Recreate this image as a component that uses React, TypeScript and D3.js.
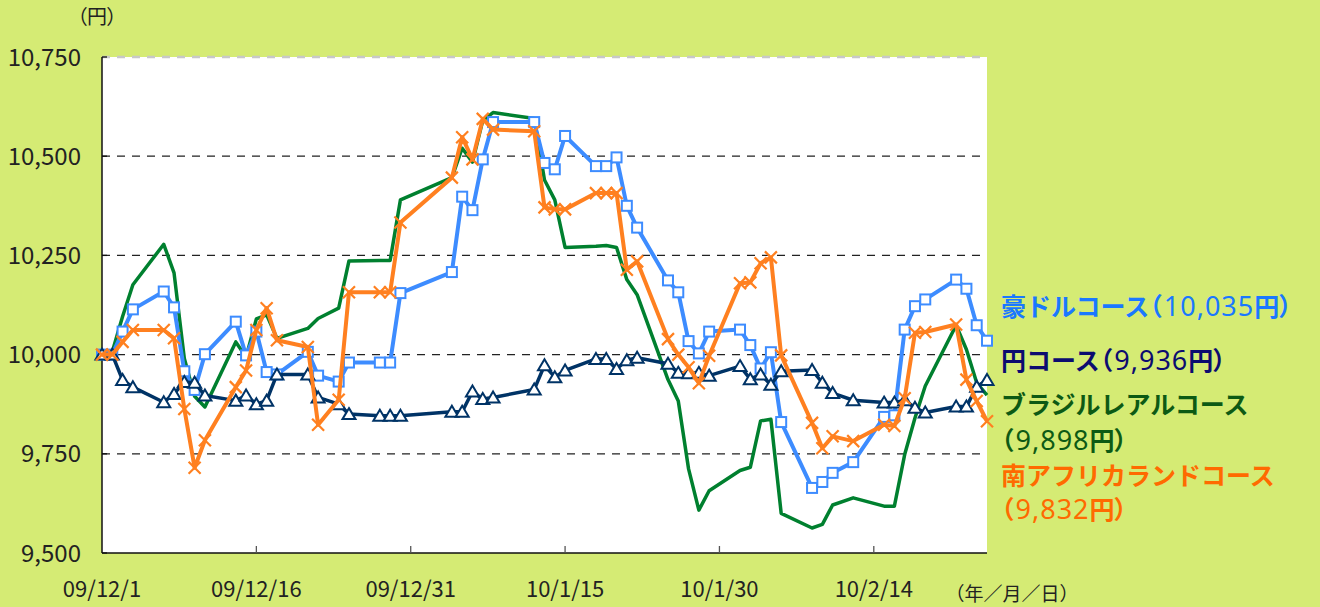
import * as d3 from "d3";

const W = 1320;
const H = 607;
const MARGIN = { top: 57, right: 333, bottom: 54, left: 102 };

// Japanese business days, 09/12/1 .. 10/2/25
const dates = [
  "2009-12-01", "2009-12-02", "2009-12-03", "2009-12-04", "2009-12-07", "2009-12-08", "2009-12-09",
  "2009-12-10", "2009-12-11", "2009-12-14", "2009-12-15", "2009-12-16", "2009-12-17", "2009-12-18",
  "2009-12-21", "2009-12-22", "2009-12-24", "2009-12-25", "2009-12-28", "2009-12-29", "2009-12-30",
  "2010-01-04", "2010-01-05", "2010-01-06", "2010-01-07", "2010-01-08", "2010-01-12", "2010-01-13",
  "2010-01-14", "2010-01-15", "2010-01-18", "2010-01-19", "2010-01-20", "2010-01-21", "2010-01-22",
  "2010-01-25", "2010-01-26", "2010-01-27", "2010-01-28", "2010-01-29",
  "2010-02-01", "2010-02-02", "2010-02-03", "2010-02-04", "2010-02-05", "2010-02-08", "2010-02-09",
  "2010-02-10", "2010-02-12", "2010-02-15", "2010-02-16", "2010-02-17", "2010-02-18", "2010-02-19",
  "2010-02-22", "2010-02-23", "2010-02-24", "2010-02-25",
];

const audValues = [
  10000, 10000, 10058, 10114, 10159, 10119, 9958, 9911, 10001, 10083, 9998, 10058, 9956, 9950,
  10007, 9947, 9932, 9980, 9980, 9980, 10155,
  10208, 10398, 10364, 10492, 10586, 10586, 10483, 10467, 10551, 10475, 10475, 10497, 10375, 10320,
  10187, 10157, 10034, 10003, 10058,
  10063, 10024, 9965, 10006, 9830, 9664, 9679, 9702, 9729, 9843, 9847, 10063, 10122, 10139,
  10189, 10166, 10074, 10035,
];

const jpyValues = [
  10000, 10000, 9936, 9918, 9880, 9901, 9931, 9929, 9897, 9884, 9897, 9875, 9884, 9950,
  9950, 9892, 9875, 9850, 9846, 9846, 9846,
  9856, 9856, 9907, 9888, 9892, 9912, 9973, 9943, 9960, 9989, 9989, 9964, 9986, 9992,
  9977, 9954, 9953, 9954, 9947,
  9971, 9938, 9950, 9924, 9958, 9961, 9929, 9903, 9885, 9879, 9879, 9885, 9866, 9854,
  9869, 9869, 9919, 9936,
];

const brlValues = [
  10000, 10007, 10096, 10176, 10278, 10206, 9990, 9895, 9868, 10032, 9994, 10090, 10100, 10041,
  10066, 10091, 10117, 10236, 10237, 10237, 10390,
  10446, 10520, 10485, 10590, 10610, 10595, 10440, 10390, 10270, 10273, 10275, 10270, 10189, 10151,
  9937, 9883, 9712, 9608, 9657,
  9708, 9716, 9833, 9837, 9600, 9563, 9572, 9621, 9639, 9618, 9618, 9748, 9840, 9921,
  10074, 10013, 9929, 9898,
];

const zarValues = [
  10000, 10000, 10032, 10062, 10062, 10041, 9863, 9715, 9784, 9918, 9960, 10062, 10117, 10036,
  10019, 9823, 9886, 10157, 10157, 10157, 10333,
  10446, 10548, 10492, 10594, 10567, 10563, 10371, 10366, 10366, 10407, 10407, 10407, 10214, 10235,
  10039, 10000, 9968, 9928, 9997,
  10180, 10182, 10230, 10245, 9998, 9828, 9764, 9794, 9782, 9823, 9820, 9890, 10055, 10057,
  10076, 9937, 9883, 9832,
];

const yTicks = [9500, 9750, 10000, 10250, 10500, 10750];
const xTickDays = [0, 15, 30, 45, 60, 75];

const FONT = "'Noto Sans CJK JP', 'Noto Sans', sans-serif";
const NUM_FONT = "'Noto Sans', sans-serif";
const BG = "#d5eb74";
const PALT = { fontFeatureSettings: "'palt'" };

const parse = d3.timeParse("%Y-%m-%d");
const fmtDate = d3.timeFormat("%y/%-m/%-d");

function Square({ x, y, color }) {
  return <rect x={x - 5} y={y - 5} width={10} height={10} fill="white" stroke={color} strokeWidth={2} />;
}
function Tri({ x, y, color }) {
  return <path d={`M${x},${y - 6}L${x + 6.5},${y + 5}L${x - 6.5},${y + 5}Z`} fill="white" stroke={color} strokeWidth={2} />;
}
function Cross({ x, y, color }) {
  return <path d={`M${x - 6},${y - 6}L${x + 6},${y + 6}M${x + 6},${y - 6}L${x - 6},${y + 6}`} stroke={color} strokeWidth={2.2} />;
}

// legend part kinds: "k" = bold kana/kanji, "p" = bold proportional paren, "n" = number
const legend = [
  { y: 307, color: "#1a78ff", parts: [["豪ドルコース", "k"], ["（", "p"], ["10,035", "n"], ["円", "k"], ["）", "p"]] },
  { y: 361, color: "#0c0c70", parts: [["円コース", "k"], ["（", "p"], ["9,936", "n"], ["円", "k"], ["）", "p"]] },
  { y: 405, color: "#0d5a14", parts: [["ブラジルレアルコース", "k"]] },
  { y: 441, color: "#0d5a14", parts: [["（", "p"], ["9,898", "n"], ["円", "k"], ["）", "p"]] },
  { y: 476, color: "#ff6a00", parts: [["南アフリカランドコース", "k"]] },
  { y: 510, color: "#ff6a00", parts: [["（", "p"], ["9,832", "n"], ["円", "k"], ["）", "p"]] },
];

export default function App() {
  const xDates = dates.map((d) => parse(d));
  const start = xDates[0];
  const end = xDates[xDates.length - 1];

  const x = d3.scaleTime().domain([start, end]).range([MARGIN.left, W - MARGIN.right]);
  const y = d3.scaleLinear().domain([9500, 10750]).range([H - MARGIN.bottom, MARGIN.top]);
  const x0 = MARGIN.left;
  const x1 = x(end);
  const yBottom = y(9500);

  const series = [
    { key: "brl", values: brlValues, color: "#00802f", width: 3.5, marker: null },
    { key: "aud", values: audValues, color: "#3d8cff", width: 4, marker: Square },
    { key: "jpy", values: jpyValues, color: "#003366", width: 3.5, marker: Tri },
    { key: "zar", values: zarValues, color: "#ff8020", width: 4, marker: Cross },
  ];

  const line = d3
    .line<number>()
    .x((_, i) => x(xDates[i]))
    .y((v) => y(v));

  return (
    <svg width={W} height={H} style={{ position: "absolute", left: 0, top: 0 }} fontFamily={FONT}>
      <rect x={0} y={0} width={W} height={H} fill={BG} />
      <rect x={x0} y={y(10750)} width={x1 - x0} height={yBottom - y(10750)} fill="white" />

      {/* grid */}
      {yTicks.filter((t) => t > 9500).map((t) => (
        <line
          key={t}
          x1={x0}
          x2={x1}
          y1={y(t)}
          y2={y(t)}
          stroke={t === 10750 ? "#c8c8c8" : "#222"}
          strokeWidth={t === 10750 ? 2.5 : 1.3}
          strokeDasharray="8,7"
        />
      ))}

      {/* axes */}
      <line x1={x0} x2={x0} y1={y(10750)} y2={yBottom} stroke="#111" strokeWidth={1.5} />
      <line x1={x0} x2={x1} y1={yBottom} y2={yBottom} stroke="#111" strokeWidth={1.5} />
      {yTicks.map((t) => (
        <line key={t} x1={x0} x2={x0 + 5} y1={y(t)} y2={y(t)} stroke="#111" strokeWidth={1.3} />
      ))}
      {yTicks.map((t) => (
        <text key={t} x={81} y={y(t)} dy="0.36em" textAnchor="end" fontSize={24} fill="#222">
          {d3.format(",")(t)}
        </text>
      ))}
      {xTickDays.map((d) => {
        const dt = d3.timeDay.offset(start, d);
        const px = x(dt);
        return (
          <g key={d}>
            {d > 0 && <line x1={px} x2={px} y1={yBottom} y2={yBottom - 7} stroke="#555" strokeWidth={1.3} />}
            <text x={px} y={589} dy="0.36em" textAnchor="middle" fontSize={22} fill="#222">
              {fmtDate(dt)}
            </text>
          </g>
        );
      })}
      <text x={97} y={17} dy="0.36em" textAnchor="middle" fontSize={20} fill="#222" style={PALT}>（円）</text>
      <text x={1012} y={594} dy="0.36em" textAnchor="middle" fontSize={19} fill="#222">（年／月／日）</text>

      {/* series */}
      {series.map((s) => (
        <g key={s.key}>
          <path d={line(s.values) || ""} fill="none" stroke={s.color} strokeWidth={s.width} strokeLinejoin="round" />
          {s.marker &&
            s.values.map((v, i) => {
              const M = s.marker;
              return <M key={i} x={x(xDates[i])} y={y(v)} color={s.color} />;
            })}
        </g>
      ))}

      {/* end-value labels */}
      {legend.map((l, i) => (
        <text key={i} x={1001} y={l.y} dy="0.36em" fontSize={25} fill={l.color}>
          {l.parts.map(([t, kind], j) =>
            kind === "n" ? (
              <tspan key={j} fontFamily={NUM_FONT} fontSize={27} fontWeight="normal" letterSpacing={1} dx={2}>{t}</tspan>
            ) : kind === "p" ? (
              <tspan key={j} fontWeight="bold" style={PALT}>{t}</tspan>
            ) : (
              <tspan key={j} fontWeight="bold">{t}</tspan>
            )
          )}
        </text>
      ))}
    </svg>
  );
}
